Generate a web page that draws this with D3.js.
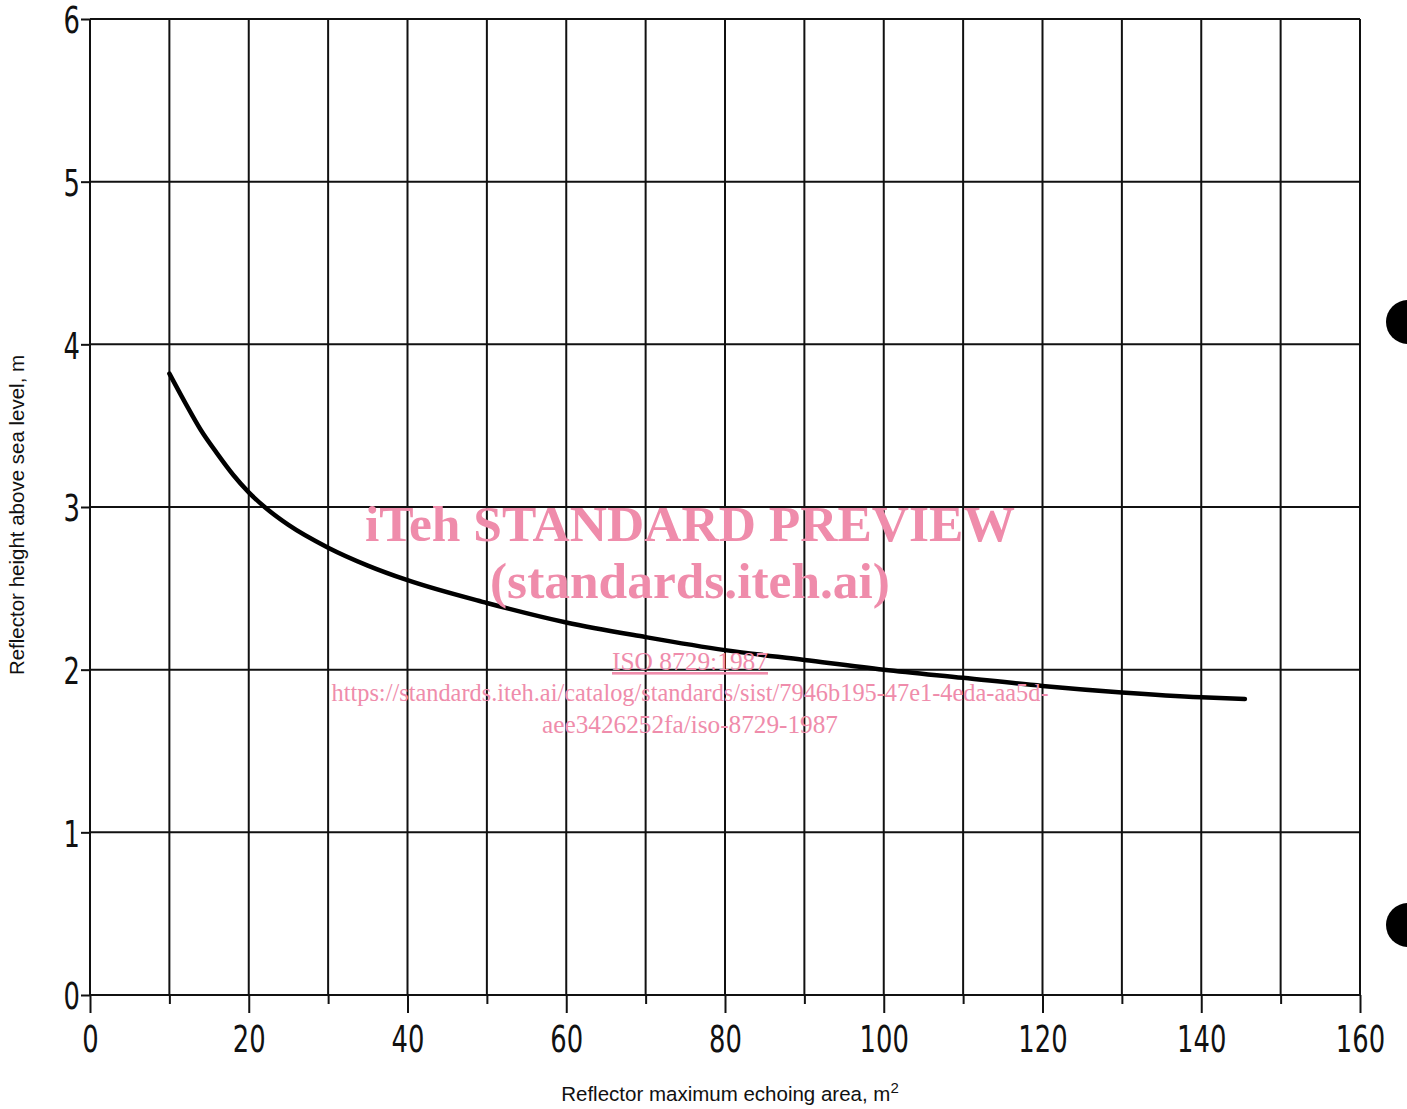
<!DOCTYPE html>
<html>
<head>
<meta charset="utf-8">
<script src="https://cdn.jsdelivr.net/npm/d3@7"></script>
<style>
  body { margin: 0; background: #fff; }
  svg { display: block; }
</style>
</head>
<body>
<svg id="chart" width="1407" height="1109"></svg>
<script>
// curve
var areaValues   = [10, 12, 14, 16, 18, 20, 22, 25, 30, 35, 40, 50, 60, 70, 80, 90, 100, 110, 120, 130, 140, 145.5];
var heightValues = [3.82, 3.64, 3.47, 3.33, 3.20, 3.09, 3.00, 2.89, 2.75, 2.64, 2.55, 2.41, 2.29, 2.20, 2.12, 2.06, 2.00, 1.95, 1.90, 1.86, 1.83, 1.82];

var xTicks = d3.range(0, 161, 10);
var xLabels = [0, 20, 40, 60, 80, 100, 120, 140, 160];
var yTicks = [0, 1, 2, 3, 4, 5, 6];

var svg = d3.select("#chart");
var margin = { top: 19, right: 47, bottom: 114, left: 90 };
var width = 1407 - margin.left - margin.right;
var height = 1109 - margin.top - margin.bottom;

var chartGroup = svg.append("g")
  .attr("transform", `translate(${margin.left}, ${margin.top})`);

var xLinearScale = d3.scaleLinear().domain([0, 160]).range([0, width]);
var yLinearScale = d3.scaleLinear().domain([0, 6]).range([height, 0]);

// narrow DIN-ish digits: squeeze a plain sans horizontally
var tickFont = "'DejaVu Sans', sans-serif";
var squeeze = 0.68;

// grid
chartGroup.append("g")
  .selectAll("line")
  .data(xTicks)
  .enter()
  .append("line")
  .attr("x1", d => xLinearScale(d))
  .attr("x2", d => xLinearScale(d))
  .attr("y1", 0)
  .attr("y2", height)
  .attr("stroke", "#111")
  .attr("stroke-width", 2);

chartGroup.append("g")
  .selectAll("line")
  .data(yTicks)
  .enter()
  .append("line")
  .attr("x1", 0)
  .attr("x2", width)
  .attr("y1", d => yLinearScale(d))
  .attr("y2", d => yLinearScale(d))
  .attr("stroke", "#111")
  .attr("stroke-width", 2);

// x axis: long ticks at labelled values, short ones between
var bottomAxis = d3.axisBottom(xLinearScale)
  .tickValues(xTicks)
  .tickSize(0)
  .tickFormat(d => xLabels.indexOf(d) >= 0 ? d : "");

var xAxis = chartGroup.append("g")
  .attr("transform", `translate(0, ${height})`)
  .call(bottomAxis);

xAxis.select(".domain").remove();
xAxis.selectAll(".tick line")
  .attr("y2", d => xLabels.indexOf(d) >= 0 ? 18 : 9)
  .attr("stroke", "#111")
  .attr("stroke-width", 2);
xAxis.selectAll(".tick text")
  .attr("y", 30)
  .attr("dy", "0.71em")
  .attr("transform", `scale(${squeeze}, 1)`)
  .style("font-family", tickFont)
  .style("font-size", "38px")
  .style("fill", "#111");

// y axis
var leftAxis = d3.axisLeft(yLinearScale)
  .tickValues(yTicks)
  .tickFormat(d3.format("d"))
  .tickSize(9);

var yAxis = chartGroup.append("g").call(leftAxis);
yAxis.select(".domain").remove();
yAxis.selectAll(".tick line")
  .attr("stroke", "#111")
  .attr("stroke-width", 2);
yAxis.selectAll(".tick text")
  .attr("x", -10 / squeeze)
  .attr("dy", "0.36em")
  .attr("transform", `scale(${squeeze}, 1)`)
  .style("font-family", tickFont)
  .style("font-size", "38px")
  .style("fill", "#111");

// curve
var points = areaValues.map((a, i) => [a, heightValues[i]]);
var line = d3.line()
  .x(d => xLinearScale(d[0]))
  .y(d => yLinearScale(d[1]))
  .curve(d3.curveMonotoneX);

chartGroup.append("path")
  .datum(points)
  .attr("d", line)
  .attr("fill", "none")
  .attr("stroke", "#000")
  .attr("stroke-width", 4.5)
  .attr("stroke-linecap", "round");

// axis titles
var xTitle = svg.append("text")
  .attr("x", 730)
  .attr("y", 1101)
  .attr("text-anchor", "middle")
  .style("font-family", "'Liberation Sans', Arial, sans-serif")
  .style("font-size", "20.5px")
  .style("fill", "#111");
xTitle.append("tspan").text("Reflector maximum echoing area, m");
xTitle.append("tspan").attr("dy", -8).style("font-size", "15px").text("2");

svg.append("text")
  .attr("transform", "translate(24, 515) rotate(-90)")
  .attr("text-anchor", "middle")
  .style("font-family", "'Liberation Sans', Arial, sans-serif")
  .style("font-size", "20.5px")
  .style("fill", "#111")
  .text("Reflector height above sea level, m");

// watermark
var pink = "#ef8cab";
var serif = "'Liberation Serif', 'Times New Roman', serif";
var marks = [
  { t: "iTeh STANDARD PREVIEW", y: 541, size: 50, bold: true, w: 650 },
  { t: "(standards.iteh.ai)", y: 598, size: 50, bold: true, w: 400 },
  { t: "ISO 8729:1987", y: 670, size: 26, bold: false, w: 156, u: true },
  { t: "https://standards.iteh.ai/catalog/standards/sist/7946b195-47e1-4eda-aa5d-", y: 701, size: 26, bold: false, w: 717 },
  { t: "aee3426252fa/iso-8729-1987", y: 733, size: 26, bold: false, w: 296 }
];
svg.append("g").selectAll("text")
  .data(marks)
  .enter()
  .append("text")
  .attr("x", 690)
  .attr("y", d => d.y)
  .attr("text-anchor", "middle")
  .attr("textLength", d => d.w)
  .attr("lengthAdjust", "spacingAndGlyphs")
  .style("font-family", serif)
  .style("font-size", d => d.size + "px")
  .style("font-weight", d => d.bold ? "bold" : "normal")
  .style("text-decoration", d => d.u ? "underline" : "none")
  .style("fill", pink)
  .text(d => d.t);

// punch holes at the page edge
svg.append("g").selectAll("circle")
  .data([322, 925])
  .enter()
  .append("circle")
  .attr("cx", 1408)
  .attr("cy", d => d)
  .attr("r", 22)
  .attr("fill", "#000");
</script>
</body>
</html>
